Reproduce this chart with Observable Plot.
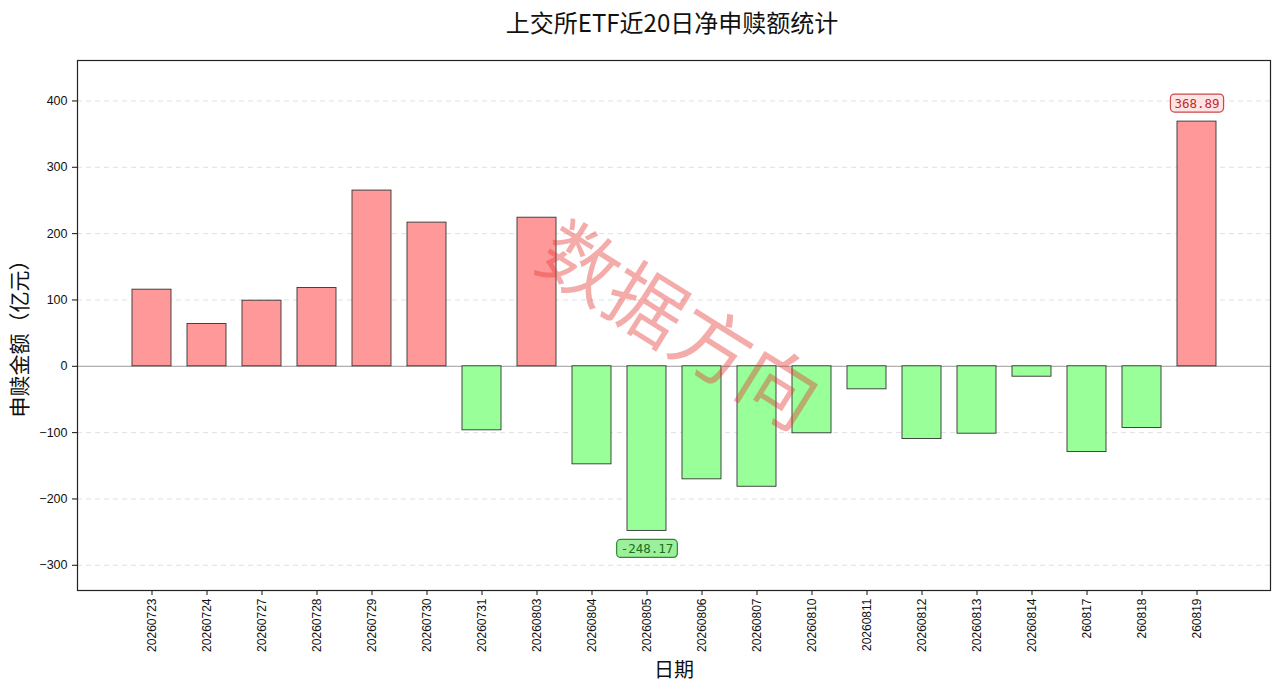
<!DOCTYPE html>
<html>
<head>
<meta charset="utf-8">
<script src="https://cdn.jsdelivr.net/npm/d3@7"></script>
<script src="https://cdn.jsdelivr.net/npm/@observablehq/plot@0.6"></script>
<style>
  html, body { margin: 0; padding: 0; background: #fff; }
  #title { height: 44px; line-height: 44px; text-align: center; font-family: "Noto Sans CJK SC", sans-serif; font-size: 24px; color: #111; padding-left: 64px; }
</style>
</head>
<body>
<div id="title">上交所ETF近20日净申赎额统计</div>
<div id="chart"></div>
<script>
const dates = ["20260723","20260724","20260727","20260728","20260729","20260730","20260731","20260803","20260804","20260805",
               "20260806","20260807","20260810","20260811","20260812","20260813","20260814","260817","260818","260819"];
const values = [115.5, 63.8, 98.9, 118, 264.9, 216.6, -96.5, 224, -147.8, -248.17,
                -170.4, -181.6, -101, -34.7, -109.7, -101.6, -15.7, -129.3, -93, 368.89];
const yTicks = [-300, -200, -100, 0, 100, 200, 300, 400];
const yDomain = [-338, 461];
const yLabel = "申赎金额（亿元）";
const xLabel = "日期";
const watermark = "数据方向";

const data = dates.map((d, i) => ({date: d, value: values[i]}));
const maxItem = data.reduce((a, b) => (b.value > a.value ? b : a));
const minItem = data.reduce((a, b) => (b.value < a.value ? b : a));

const cjk = "Noto Sans CJK SC, sans-serif";

const chart = Plot.plot({
  width: 1280,
  height: 652,
  marginTop: 16,
  marginBottom: 106,
  marginLeft: 77,
  marginRight: 10,
  style: {fontFamily: "Liberation Sans, Arial, sans-serif", fontSize: "12px", background: "white", color: "#111"},
  x: {type: "band", domain: dates, paddingInner: 0.3, paddingOuter: 0.985, label: null},
  y: {domain: yDomain, ticks: yTicks, label: null},
  marks: [
    Plot.gridY(yTicks.filter(t => t !== 0), {stroke: "#ccc", strokeOpacity: 0.6, strokeDasharray: "5,4"}),
    Plot.ruleY([0], {stroke: "#999", strokeWidth: 1}),
    Plot.barY(data, {x: "date", y: "value", fill: d => d.value >= 0 ? "#ff9999" : "#99ff99", stroke: "#333", strokeWidth: 0.9}),
    Plot.axisX({tickRotate: -90, tickSize: 5, tickPadding: 3, label: null, fontSize: 12}),
    Plot.axisY({ticks: yTicks, tickSize: 5, tickPadding: 5, label: null, fontSize: 12.5}),
    Plot.frame({stroke: "#222", strokeWidth: 1.2}),
    Plot.text([yLabel], {frameAnchor: "left", rotate: -90, dx: -57, dy: 8, fontSize: 21, fontFamily: cjk, fill: "#111", textAnchor: "middle"}),
    Plot.text([xLabel], {frameAnchor: "bottom", dy: 86, fontSize: 20, fontFamily: cjk, fill: "#111", textAnchor: "middle"}),
    Plot.text([maxItem], {x: "date", y: "value", text: d => d.value.toFixed(2), dy: -18, fill: "#c62828", fontSize: 12.5, fontFamily: "DejaVu Sans Mono, monospace", lineAnchor: "middle"}),
    Plot.text([minItem], {x: "date", y: "value", text: d => d.value.toFixed(2), dy: 18, fill: "#1b6e1b", fontSize: 12.5, fontFamily: "DejaVu Sans Mono, monospace", lineAnchor: "middle"}),
    Plot.text([watermark], {frameAnchor: "top-left", dx: 600, dy: 268, rotate: 32, fontSize: 78, fontFamily: cjk, fill: "#e53935", fillOpacity: 0.42, textAnchor: "middle", lineAnchor: "middle"})
  ]
});
document.getElementById("chart").appendChild(chart);

// rounded boxes behind the annotation labels
const boxStyles = {
  "#c62828": {fill: "#ffe4e4", stroke: "#c94848"},
  "#1b6e1b": {fill: "#9cf09c", stroke: "#2e8b2e"}
};
d3.select(chart).selectAll('g[aria-label="text"]').each(function() {
  const fill = this.getAttribute("fill");
  const st = boxStyles[fill];
  if (!st) return;
  d3.select(this).selectAll("text").each(function() {
    const bb = this.getBBox();
    const t = this.getAttribute("transform");
    const rect = document.createElementNS("http://www.w3.org/2000/svg", "rect");
    rect.setAttribute("x", bb.x - 4);
    rect.setAttribute("y", bb.y - 1.5);
    rect.setAttribute("width", bb.width + 8);
    rect.setAttribute("height", bb.height + 3);
    rect.setAttribute("rx", 4);
    rect.setAttribute("fill", st.fill);
    rect.setAttribute("stroke", st.stroke);
    rect.setAttribute("stroke-width", 1.2);
    if (t) rect.setAttribute("transform", t);
    this.parentNode.insertBefore(rect, this);
  });
});
</script>
</body>
</html>
